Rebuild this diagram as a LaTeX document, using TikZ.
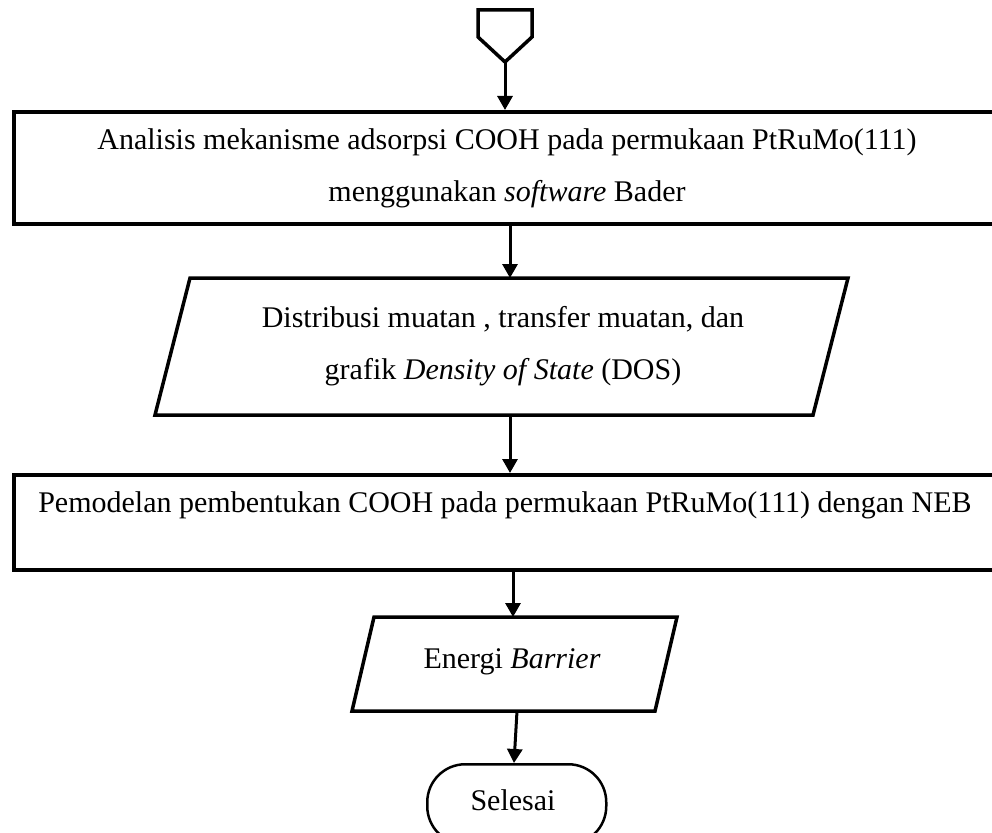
\documentclass[tikz,border=0pt]{standalone}
\usepackage{fontspec}
\setmainfont{Liberation Serif}
\usetikzlibrary{arrows.meta}
\begin{document}
\begin{tikzpicture}[x=1pt,y=-1pt,
  boxline/.style={line width=4pt, line join=miter},
  paraline/.style={line width=3.5pt, line join=miter},
  conn/.style={line width=3pt, -{Triangle[length=14pt,width=15pt]}},
  lbl/.style={align=center, inner sep=0pt, font=\fontsize{30}{52}\selectfont}]
\useasboundingbox (0,0) rectangle (992,832);

% off-page connector
\draw[paraline] (478,10) -- (532,10) -- (532,37) -- (505,62) -- (478,37) -- cycle;
\coordinate (op) at (505,62);

% box 1
\node[draw, boxline, anchor=north west, minimum width=1000pt, minimum height=112pt, inner sep=0pt] (b1) at (12,110) {};
\node[lbl] (t1) at (507,168) {Analisis mekanisme adsorpsi COOH pada permukaan PtRuMo(111)\\menggunakan \textit{software} Bader};

% parallelogram 1
\draw[paraline] (190,278) -- (848,278) -- (813,415) -- (155,415) -- cycle;
\coordinate (p1t) at (510,278);
\coordinate (p1b) at (510,415);
\node[lbl] (t2) at (503,346) {Distribusi muatan , transfer muatan, dan\\grafik \textit{Density of State} (DOS)};

% box 2
\node[draw, boxline, anchor=north west, minimum width=1000pt, minimum height=95pt, inner sep=0pt] (b2) at (12,473) {};
\node[lbl] (t3) at (505,505) {Pemodelan pembentukan COOH pada permukaan PtRuMo(111) dengan NEB};

% parallelogram 2
\draw[paraline] (374,617) -- (677,617) -- (655,711) -- (352,711) -- cycle;
\coordinate (p2t) at (513,617);
\coordinate (p2b) at (517,711);
\node[lbl] (t4) at (512,662) {Energi \textit{Barrier}};

% terminal
\node[draw, line width=2.5pt, rounded corners=38pt, anchor=north west, minimum width=179pt, minimum height=80pt, inner sep=0pt] (end) at (426,763) {};
\node[lbl] (t5) at (513,800) {Selesai};

% connectors
\draw[conn] (op) -- (op |- b1.north);
\draw[conn] (p1t |- b1.south) -- (p1t);
\draw[conn] (p1b) -- (p1b |- b2.north);
\draw[conn] (p2t |- b2.south) -- (p2t);
\draw[conn] (p2b) -- (514,763 |- end.north);
\end{tikzpicture}
\end{document}
